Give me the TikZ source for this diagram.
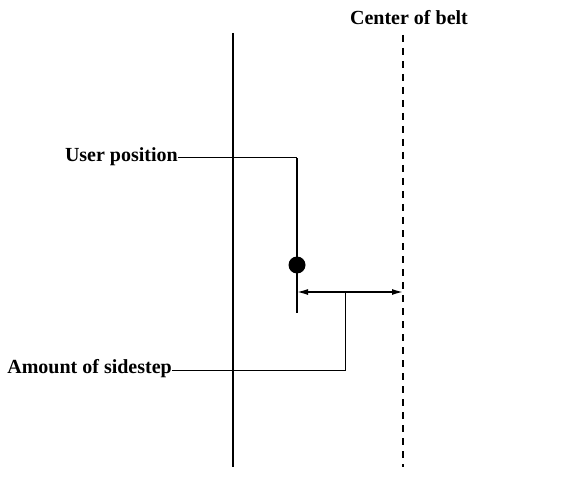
\documentclass[tikz,border=0pt]{standalone}
\usepackage{fontspec}
\setmainfont{Liberation Serif}
\usetikzlibrary{arrows.meta}
\begin{document}
\begin{tikzpicture}[x=1pt,y=-1pt,
  lbl/.style={font=\bfseries\fontsize{20}{22}\selectfont, inner sep=0pt},
  ln/.style={line width=1.4pt},
  lead/.style={line width=1pt}]
\useasboundingbox (0,0) rectangle (570,497);
% solid reference line
\coordinate (st) at (233,33);
\coordinate (sb) at (233,467);
\draw[ln] (st) -- (sb);
% center of belt
\node[lbl] (cob) at (409,18) {Center of belt};
\coordinate (dt) at (403,35);
\coordinate (db) at (403,467);
\draw[ln, dash pattern=on 7pt off 6pt] (dt) -- (db);
% user line
\coordinate (ut) at (297,158);
\coordinate (ub) at (297,313);
\draw[ln] (ut) -- (ub);
\node[circle, fill=black, inner sep=0pt, minimum size=17pt] (dot) at (297,265) {};
% user position label
\node[lbl, anchor=east] (up) at (178,157) {User position};
\draw[lead] (up.east) ++(0,1) -- (ut);
% sidestep arrow
\coordinate (al) at (297,292);
\coordinate (ar) at (403,292);
\draw[ln, {Latex[length=11pt,width=6pt]}-{Latex[length=11pt,width=6pt]}] (al) -- (ar);
\coordinate (am) at (345,292);
\coordinate (ab) at (345,370);
\node[lbl, anchor=east] (as) at (172,369) {Amount of sidestep};
\draw[lead] (am) -- (ab) -- (ab -| as.east);
\end{tikzpicture}
\end{document}
